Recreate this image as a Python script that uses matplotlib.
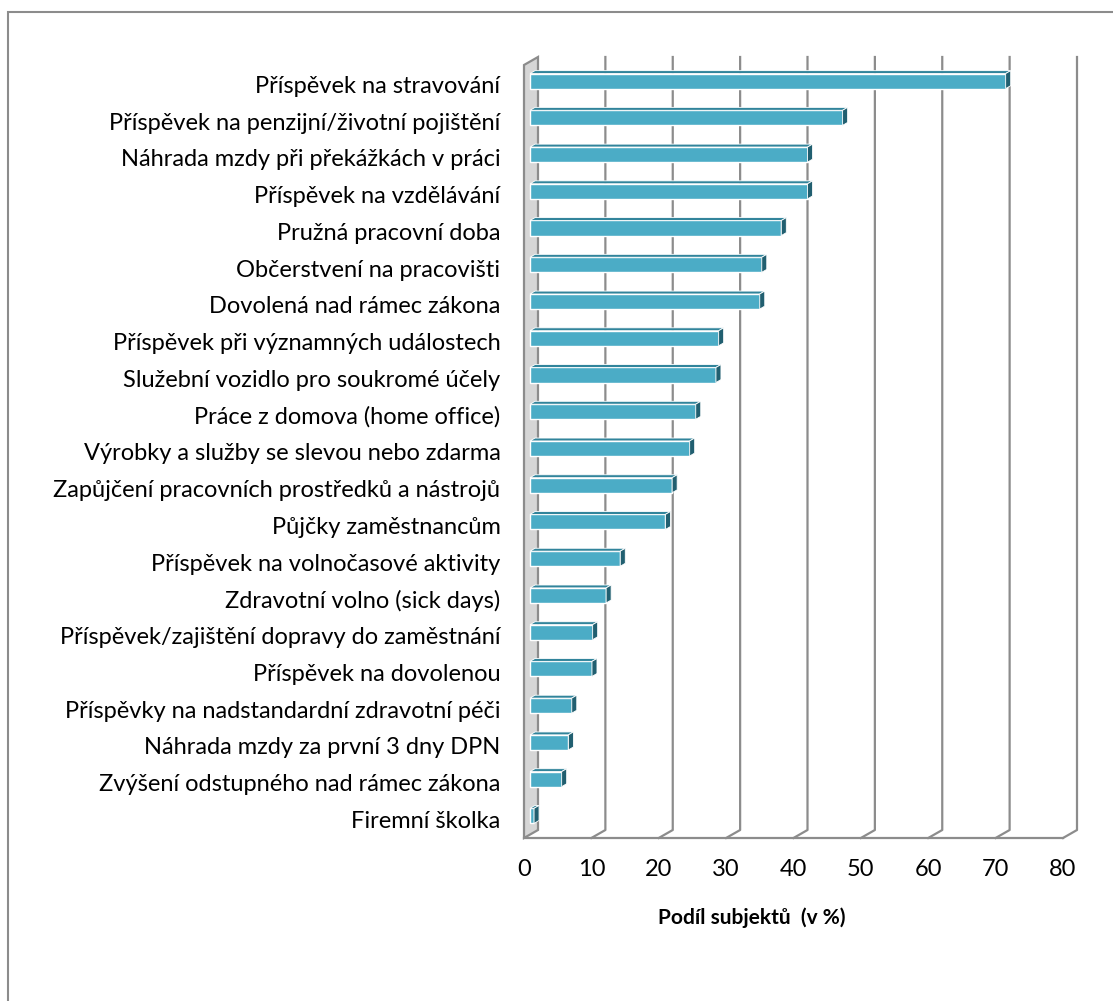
import numpy as np
import matplotlib
matplotlib.use("Agg")
import matplotlib.pyplot as plt
from matplotlib.patches import Polygon, Rectangle
from matplotlib.lines import Line2D
from matplotlib.transforms import ScaledTranslation, IdentityTransform

plt.rcParams['font.family'] = ['Lato', 'DejaVu Sans']

# Data (share of subjects, %)
categories = [
    "Příspěvek na stravování",
    "Příspěvek na penzijní/životní pojištění",
    "Náhrada mzdy při překážkách v práci",
    "Příspěvek na vzdělávání",
    "Pružná pracovní doba",
    "Občerstvení na pracovišti",
    "Dovolená nad rámec zákona",
    "Příspěvek při významných událostech",
    "Služební vozidlo pro soukromé účely",
    "Práce z domova (home office)",
    "Výrobky a služby se slevou nebo zdarma",
    "Zapůjčení pracovních prostředků a nástrojů",
    "Půjčky zaměstnancům",
    "Příspěvek na volnočasové aktivity",
    "Zdravotní volno (sick days)",
    "Příspěvek/zajištění dopravy do zaměstnání",
    "Příspěvek na dovolenou",
    "Příspěvky na nadstandardní zdravotní péči",
    "Náhrada mzdy za první 3 dny DPN",
    "Zvýšení odstupného nad rámec zákona",
    "Firemní školka",
]
values = [70.6, 46.4, 41.2, 41.2, 37.3, 34.4, 34.1, 28.0, 27.6, 24.6, 23.7,
          21.1, 20.1, 13.4, 11.3, 9.3, 9.2, 6.2, 5.7, 4.7, 0.6]
x_ticks = [0, 10, 20, 30, 40, 50, 60, 70, 80]
x_label = "Podíl subjektů  (v %)"

W, H = 1113, 1001
fig = plt.figure(figsize=(W / 100, H / 100), dpi=100)
fig.patch.set_facecolor("white")

# axes = front plane of the 3D box
ax = fig.add_axes([524 / W, 163 / H, 539 / W, 773 / H])
ax.patch.set_visible(False)
for s in ax.spines.values():
    s.set_visible(False)

y_pos = np.arange(len(categories))
y_top, y_floor = -0.53, 20.51

grid_col = "#8c8c8c"
bar_col = "#4bacc6"
top_col = "#31849b"
cap_col = "#215f70"

depth = (14, 8)        # full depth of the box in pixels
bar_front = (6, 3.4)   # bar front face offset from front plane
bar_back = (11, 6.3)   # bar back face offset


def shift(dx, dy):
    return ScaledTranslation(dx / 100, dy / 100, fig.dpi_scale_trans)


bar_h = 0.41
ax.barh(y_pos, values, height=bar_h, color=bar_col, edgecolor="white",
        linewidth=1.0, transform=ax.transData + shift(*bar_front), zorder=3)

ax.set_xlim(0, 80)
ax.set_ylim(y_floor, y_top)
ax.set_yticks(y_pos, categories)
ax.set_xticks(x_ticks, [str(t) for t in x_ticks])
ax.tick_params(axis="y", length=0, pad=17, labelsize=17)
ax.tick_params(axis="x", length=0, pad=15, labelsize=17)


def P(x, y, off=(0, 0)):
    px = ax.transData.transform((x, y))
    return (px[0] + off[0], px[1] + off[1])


# side wall at x = 0
wall = [P(0, y_floor), P(0, y_floor, depth), P(0, y_top, depth), P(0, y_top)]
fig.add_artist(Polygon(wall, closed=True, facecolor="#d6d6d6", edgecolor=grid_col,
                       linewidth=1.6, transform=IdentityTransform(), zorder=-2))

# floor front edge
a, b = P(0, y_floor), P(80, y_floor)
fig.add_artist(Line2D([a[0], b[0]], [a[1], b[1]], color=grid_col, lw=1.6,
                      transform=IdentityTransform(), zorder=-1))

# gridlines on the back wall + floor diagonals
for t in x_ticks[1:]:
    p_top = P(t, y_top, depth)
    p_bot = P(t, y_floor, depth)
    p_front = P(t, y_floor)
    fig.add_artist(Line2D([p_top[0], p_bot[0], p_front[0]],
                          [p_top[1], p_bot[1], p_front[1]],
                          color=grid_col, lw=1.6, transform=IdentityTransform(),
                          zorder=-1))

# 3D top faces and end caps of bars
for y, v in zip(y_pos, values):
    yt, yb = y - bar_h / 2, y + bar_h / 2
    top = [P(0, yt, bar_front), P(v, yt, bar_front), P(v, yt, bar_back), P(0, yt, bar_back)]
    cap = [P(v, yt, bar_front), P(v, yb, bar_front), P(v, yb, bar_back), P(v, yt, bar_back)]
    fig.add_artist(Polygon(top, closed=True, facecolor=top_col, edgecolor="white",
                           linewidth=0.6, transform=IdentityTransform(), zorder=2))
    fig.add_artist(Polygon(cap, closed=True, facecolor=cap_col, edgecolor="white",
                           linewidth=0.6, transform=IdentityTransform(), zorder=2))

fig.text(752 / W, 1 - 918 / H, x_label, ha="center", va="center",
         fontsize=15, fontweight="bold")

# outer chart frame (runs off the right and bottom edges)
fig.add_artist(Rectangle((8 / W, -0.1), 1.2, 1.1 - 12 / H, fill=False,
                         edgecolor=grid_col, linewidth=1.5,
                         transform=fig.transFigure, zorder=5))

fig.savefig("out.png", dpi=100)
